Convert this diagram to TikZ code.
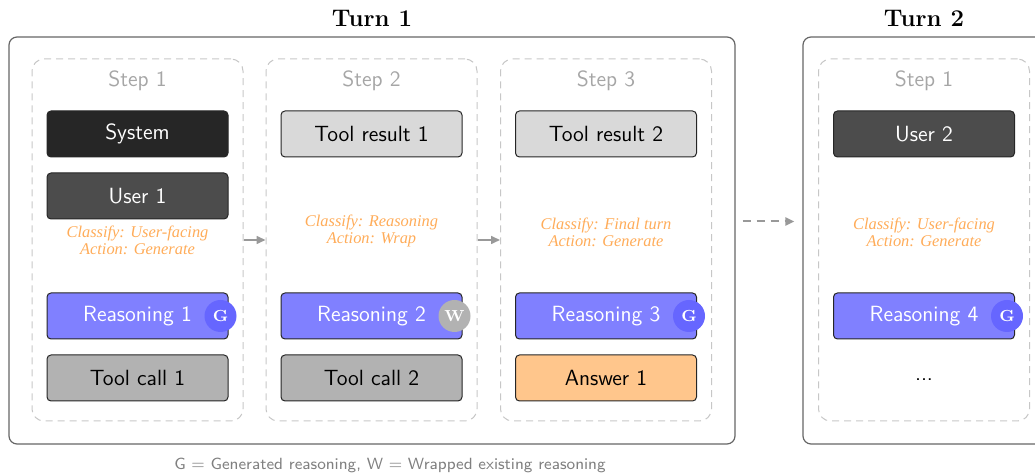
\documentclass[tikz,border=0pt]{standalone}
\usepackage{fontspec}
\usepackage{tikz}
\usetikzlibrary{arrows.meta}
\newfontfamily\rulefont{Liberation Serif}

\begin{document}
\begin{tikzpicture}[x=0.5pt,y=-0.5pt,
  turnbox/.style={draw=black!60,line width=0.6pt,rounded corners=4pt,minimum height=203.5pt,inner sep=0pt},
  stepbox/.style={draw=black!22,line width=0.5pt,dash pattern=on 3.5pt off 2.5pt,rounded corners=6pt,minimum width=105.5pt,minimum height=181pt,inner sep=0pt},
  steplabel/.style={text=black!35,font=\sffamily\fontsize{11}{13}\selectfont},
  msg/.style={draw=black!85,line width=0.5pt,rounded corners=2pt,minimum width=90.5pt,minimum height=23pt,inner sep=0pt,font=\sffamily\fontsize{11}{13}\selectfont},
  badge/.style={circle,minimum size=16pt,inner sep=0pt,text=white,font=\bfseries\fontsize{8}{9}\selectfont},
  rule/.style={align=center,text=orange!65,font=\rulefont\itshape\fontsize{8.2}{8.6}\selectfont},
  steparrow/.style={draw=black!40,line width=0.8pt,-{Triangle[length=4.5pt,width=4pt]}}
]
  \useasboundingbox (0,0) rectangle (1035,475);

  % turns
  \node[turnbox,minimum width=363pt] (turn1) at (372,240.5) {};
  \node[turnbox,minimum width=121pt] (turn2) at (924,240.5) {};
  \node[font=\bfseries\fontsize{12}{14}\selectfont] (title1) at (372,18) {Turn 1};
  \node[font=\bfseries\fontsize{12}{14}\selectfont] (title2) at (924,18) {Turn 2};

  % steps
  \node[stepbox] (s1) at (137.5,240) {};
  \node[stepbox] (s2) at (371.5,240) {};
  \node[stepbox] (s3) at (606,240) {};
  \node[stepbox] (t2s1) at (924,240) {};
  \node[steplabel] (l1) at (137.5,81) {Step 1};
  \node[steplabel] (l2) at (371.5,81) {Step 2};
  \node[steplabel] (l3) at (606,81) {Step 3};
  \node[steplabel] (l4) at (924,81) {Step 1};

  % step 1
  \node[msg,fill=black!85,text=white] (sys) at (137.5,134) {System};
  \node[msg,fill=black!70,text=white] (user1) at (137.5,196) {User 1};
  \node[rule] (c1) at (137.5,240) {Classify: User-facing\\Action: Generate};
  \node[msg,fill=blue!50,text=white] (r1) at (137.5,316) {Reasoning 1};
  \node[badge,fill=blue!60] (g1) at ([xshift=-4pt]r1.east) {G};
  \node[msg,fill=black!30] (tc1) at (137.5,378) {Tool call 1};

  % step 2
  \node[msg,fill=black!15] (tr1) at (371.5,134) {Tool result 1};
  \node[rule] (c2) at (371.5,231) {Classify: Reasoning\\Action: Wrap};
  \node[msg,fill=blue!50,text=white] (r2) at (371.5,316) {Reasoning 2};
  \node[badge,fill=black!30] (w2) at ([xshift=-4pt]r2.east) {W};
  \node[msg,fill=black!30] (tc2) at (371.5,378) {Tool call 2};

  % step 3
  \node[msg,fill=black!15] (tr2) at (606,134) {Tool result 2};
  \node[rule] (c3) at (606,232.5) {Classify: Final turn\\Action: Generate};
  \node[msg,fill=blue!50,text=white] (r3) at (606,316) {Reasoning 3};
  \node[badge,fill=blue!60] (g3) at ([xshift=-4pt]r3.east) {G};
  \node[msg,fill=orange!45] (ans1) at (606,378) {Answer 1};

  % turn 2, step 1
  \node[msg,fill=black!70,text=white] (user2) at (924,134) {User 2};
  \node[rule] (c4) at (924,232.5) {Classify: User-facing\\Action: Generate};
  \node[msg,fill=blue!50,text=white] (r4) at (924,316) {Reasoning 4};
  \node[badge,fill=blue!60] (g4) at ([xshift=-4pt]r4.east) {G};
  \node[font=\sffamily\fontsize{11}{13}\selectfont] (more) at (924,380) {...};

  % flow
  \draw[steparrow] (s1.east) -- (s2.west);
  \draw[steparrow] (s2.east) -- (s3.west);
  \draw[steparrow,line width=1pt,dash pattern=on 4pt off 3pt] ([xshift=3.5pt,yshift=9.5pt]turn1.east) -- ([xshift=-4pt,yshift=9.5pt]turn2.west);

  \node[text=black!50,font=\sffamily\fontsize{8.1}{10}\selectfont] (legend) at (390,465) {G = Generated reasoning, W = Wrapped existing reasoning};
\end{tikzpicture}
\end{document}
